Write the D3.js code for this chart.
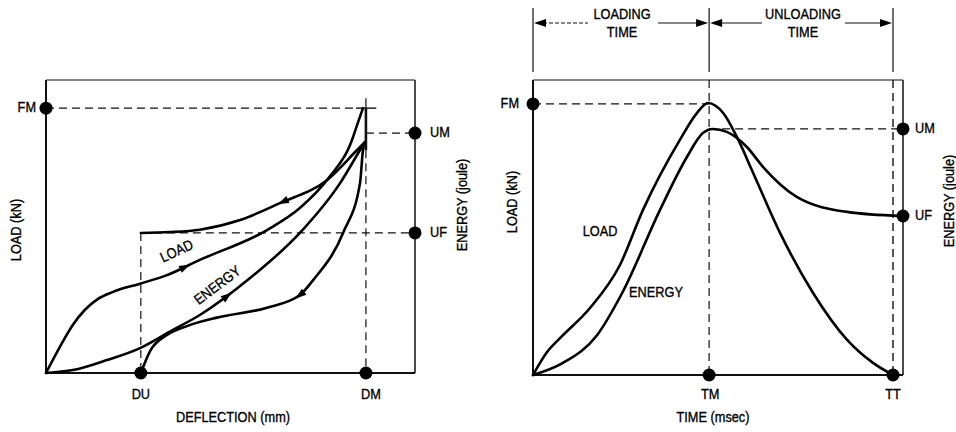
<!DOCTYPE html>
<html><head><meta charset="utf-8">
<script src="https://cdn.jsdelivr.net/npm/d3@7"></script>
<style>
html,body{margin:0;padding:0;background:#fff;}
svg text{font-family:'Liberation Sans',Arial,sans-serif;font-size:14.5px;fill:#000;stroke:#000;stroke-width:0.35px;}
</style></head>
<body><svg id="c" width="956" height="432"></svg>
<script>
// ---------- DATA (normalised units 0..100) ----------
// Left panel: load / energy vs deflection
const leftMarks = {FM: 90.4, UM: 81.9, UF: 47.8, DU: 25.7, DM: 86.7};
const loadLoading = [[0,0],[3.8,9.0],[7.3,16.5],[10.5,21.5],[14.0,25.2],[18.0,27.6],[25.5,30.5],[32.8,33.4],[41.7,38.6],[59.9,48.8],[68.8,56.3],[77.0,67.2],[82.4,77.8],[84.6,85.7],[85.9,90.4]];
const energyLoading = [[0,0],[7.3,1.0],[16.5,4.4],[25.5,8.5],[34.4,14.7],[41.7,19.8],[55.3,32.4],[68.8,47.8],[79.7,64.8],[85.1,76.1],[86.4,78.8]];
const energyUnloading = [[86.4,78.8],[84.3,76.1],[76.2,65.9],[63.4,58.0],[52.6,52.2],[41.7,48.9],[33.6,48.1],[25.7,47.8]];
const loadUnloading = [[86.4,78.8],[85.9,76.1],[85.1,64.8],[80.5,47.8],[72.4,31.7],[68.8,26.6],[59.9,22.3],[46.3,18.9],[38.2,16.0],[32.8,13.0],[28.2,7.5],[25.7,0]];
const leftArrowsX = [37.7, 49.1, 64.2, 68.8]; // on loadLoading, energyLoading, energyUnloading, loadUnloading
// Right panel: load / energy vs time
const rightMarks = {FM: 91.9, UM: 83.4, UF: 53.9, TM: 47.6, TT: 97.3};
const loadTime = [[0,0],[3.8,7.8],[7.3,12.5],[15.4,22.7],[23.5,37.3],[29.7,55.9],[39.7,79.7],[44.3,88.8],[47.3,92.2],[51.4,88.8],[55.1,80.7],[59.5,68.5],[66.8,48.1],[75.7,27.8],[84.9,11.9],[91.9,4.1],[97.3,0]];
const energyTime = [[0,0],[8.1,4.1],[17.3,13.5],[24.1,27.8],[34.3,55.9],[41.6,73.9],[45.9,82.0],[48.6,83.4],[52.4,82.4],[57.8,77.3],[62.2,70.5],[71.4,60.3],[84.9,55.3],[99.7,53.9]];
const labels = {xLeft:"DEFLECTION (mm)", xRight:"TIME (msec)", yLoad:"LOAD (kN)", yEnergy:"ENERGY (joule)"};

// ---------- DRAW ----------
const svg = d3.select("#c");
const xL = d3.scaleLinear().domain([0,100]).range([46,415]);
const yL = d3.scaleLinear().domain([0,100]).range([373,80]);
const xR = d3.scaleLinear().domain([0,100]).range([533,903]);
const yR = d3.scaleLinear().domain([0,100]).range([375,80]);
const dash = "8,5";

function dline(x1,y1,x2,y2,w,da){
  svg.append("line").attr("x1",x1).attr("y1",y1).attr("x2",x2).attr("y2",y2)
    .attr("stroke","#111").attr("stroke-width",w||1.2).attr("stroke-dasharray",da||null);
}
function dot(x,y){ svg.append("circle").attr("cx",x).attr("cy",y).attr("r",6.5).attr("fill","#000"); }
function txt(x,y,s,anchor,rot){
  return svg.append("text").attr("x",0).attr("y",0).attr("text-anchor",anchor||"middle")
    .attr("dominant-baseline","middle")
    .attr("transform",`translate(${x},${y}) rotate(${rot||0}) scale(0.88,1)`).text(s);
}
function curve(data,xs,ys,cv){
  const line = d3.line().x(d=>xs(d[0])).y(d=>ys(d[1])).curve(cv||d3.curveMonotoneX);
  return svg.append("path").attr("d",line(data)).attr("fill","none").attr("stroke","#000")
    .attr("stroke-width",2.6).attr("stroke-linejoin","round").attr("stroke-linecap","round");
}
function tri(x,y,ang,len,hw){
  const c=Math.cos(ang), s=Math.sin(ang);
  const p=[[x+c*len/2, y+s*len/2],[x-c*len/2 - s*hw, y-s*len/2 + c*hw],[x-c*len/2 + s*hw, y-s*len/2 - c*hw]];
  svg.append("path").attr("d","M"+p.map(q=>q.join(",")).join("L")+"Z").attr("fill","#000");
}
function arrowOn(path,px){
  const node=path.node(), L=node.getTotalLength();
  let best=0,bd=1e9;
  for(let l=0;l<=L;l+=0.5){const p=node.getPointAtLength(l); const d=Math.abs(p.x-px); if(d<bd){bd=d;best=l;}}
  const a=node.getPointAtLength(Math.max(0,best-3)), b=node.getPointAtLength(Math.min(L,best+3));
  const p=node.getPointAtLength(best);
  tri(p.x,p.y,Math.atan2(b.y-a.y,b.x-a.x),11,3.8);
}

// ----- Left panel -----
dline(xL(0),yL(100),xL(100),yL(100),1);
dline(xL(100),yL(100),xL(100),yL(0),1.5);
dline(xL(0),yL(100),xL(0),yL(0),2);
dline(xL(0),yL(0),xL(100),yL(0),2);
dline(xL(0),yL(leftMarks.FM),xL(84),yL(leftMarks.FM),1.2,dash);
dline(xL(84),yL(leftMarks.FM),xL(89.5),yL(leftMarks.FM),1.4);
dline(xL(leftMarks.DM),yL(93.8),xL(leftMarks.DM),yL(leftMarks.FM),1.2);
dline(xL(leftMarks.DM),yL(leftMarks.FM),xL(leftMarks.DM),yL(76),2.6);
dline(xL(leftMarks.DM),yL(76),xL(leftMarks.DM),yL(0),1.2,dash);
dline(xL(leftMarks.DM),yL(leftMarks.UM),xL(100),yL(leftMarks.UM),1.2,dash);
dline(xL(leftMarks.DU),yL(leftMarks.UF),xL(100),yL(leftMarks.UF),1.2,dash);
dline(xL(leftMarks.DU),yL(leftMarks.UF),xL(leftMarks.DU),yL(0),1.2,dash);
const c1=curve(loadLoading,xL,yL), c2=curve(energyLoading,xL,yL),
      c3=curve(energyUnloading,xL,yL), c4=curve(loadUnloading,xL,yL);
[c1,c2,c3,c4].forEach((c,i)=>arrowOn(c,xL(leftArrowsX[i])));
txt(177,252,"LOAD","middle",-25);
txt(218,286,"ENERGY","middle",-37);
dot(xL(0),yL(leftMarks.FM)); dot(xL(100),yL(leftMarks.UM)); dot(xL(100),yL(leftMarks.UF));
dot(xL(leftMarks.DU),yL(0)); dot(xL(leftMarks.DM),yL(0));
txt(36,yL(leftMarks.FM),"FM","end");
txt(430,yL(leftMarks.UM),"UM","start");
txt(430,yL(leftMarks.UF),"UF","start");
txt(xL(leftMarks.DU),395,"DU");
txt(371,395,"DM");
txt(233,418,labels.xLeft);
txt(17,230,labels.yLoad,"middle",-90);
txt(463,205,labels.yEnergy,"middle",-90);

// ----- Right panel -----
dline(xR(0),yR(100),xR(100),yR(100),1);
dline(xR(100),yR(100),xR(100),yR(0),1.5);
dline(xR(0),yR(100),xR(0),yR(0),2);
dline(xR(0),yR(0),xR(100),yR(0),2);
dline(xR(0),yR(rightMarks.FM),xR(rightMarks.TM),yR(rightMarks.FM),1.2,dash);
dline(xR(rightMarks.TM),yR(rightMarks.UM),xR(100),yR(rightMarks.UM),1.2,dash);
dline(xR(rightMarks.TM),yR(100),xR(rightMarks.TM),yR(0),1.2,dash);
dline(xR(rightMarks.TT),yR(100),xR(rightMarks.TT),yR(0),1.4,dash);
curve(loadTime,xR,yR); curve(energyTime,xR,yR);
txt(600,232,"LOAD");
txt(656,293,"ENERGY");
dot(xR(0),yR(rightMarks.FM)); dot(xR(100),yR(rightMarks.UM)); dot(xR(100),yR(rightMarks.UF));
dot(xR(rightMarks.TM),yR(0)); dot(xR(rightMarks.TT),yR(0));
txt(519,yR(rightMarks.FM),"FM","end");
txt(915,yR(rightMarks.UM),"UM","start");
txt(915,yR(rightMarks.UF),"UF","start");
txt(xR(rightMarks.TM)+1,395,"TM");
txt(xR(rightMarks.TT),395,"TT");
txt(713,418,labels.xRight);
txt(513,202,labels.yLoad,"middle",-90);
txt(950,201,labels.yEnergy,"middle",-90);

// top timing annotation
const xa=xR(0), xb=xR(rightMarks.TM), xc=xR(rightMarks.TT), ya=23;
[xa,xb,xc].forEach(x=>dline(x,8,x,72,1.2));
dline(xa+4,ya,588,ya,1.2,"4,2"); tri(xa+7,ya,Math.PI,12,4);
dline(658,ya,xb-4,ya,1.2); tri(xb-7,ya,0,12,4);
dline(xb+4,ya,762,ya,1.2); tri(xb+7,ya,Math.PI,12,4);
dline(845,ya,xc-4,ya,1.2); tri(xc-7,ya,0,12,4);
txt((xa+xb)/2+1,15,"LOADING"); txt((xa+xb)/2+1,33,"TIME");
txt(803,15,"UNLOADING"); txt(803,33,"TIME");
</script></body></html>
